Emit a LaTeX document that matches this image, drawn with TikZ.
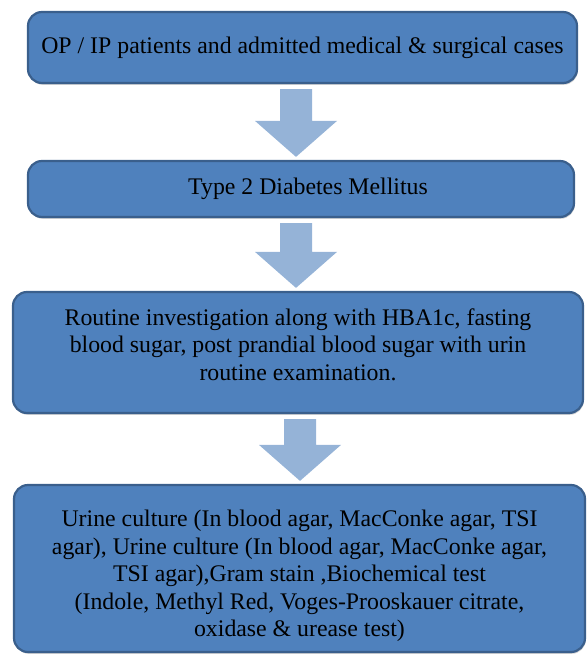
\documentclass[tikz,border=0pt]{standalone}
\usepackage{xcolor}
\usepackage{fontspec}
\setmainfont{Liberation Serif}
\usepackage{tikz}
\usetikzlibrary{calc,shadows}

\definecolor{boxblue}{HTML}{4F81BD}
\definecolor{boxline}{HTML}{3A5F8C}
\definecolor{arrowblue}{HTML}{95B3D7}

\tikzset{
  flowbox/.style={draw=boxline, line width=2.2pt, fill=boxblue,
    rounded corners=14pt, align=center, inner sep=0pt,
    font=\rmfamily\fontsize{23.8}{27.5}\selectfont,
    drop shadow={shadow xshift=0.8pt, shadow yshift=-1.8pt, opacity=0.35, fill=gray}},
}

%% block arrow from node #1 down to node #2, centred at x=#3 %%%%
\newcommand{\flowarrow}[3]{%
\fill[arrowblue] let \p1=(#1.south), \p2=(#2.north) in
  ({#3pt-16pt},{\y1-5pt}) -- ({#3pt+16pt},{\y1-5pt})
  -- ({#3pt+16pt},{\y2+39pt}) -- ({#3pt+41pt},{\y2+39pt})
  -- ({#3pt},{\y2+3pt}) -- ({#3pt-41pt},{\y2+39pt})
  -- ({#3pt-16pt},{\y2+39pt}) -- cycle;
}

\begin{document}
\begin{tikzpicture}[x=1pt,y=-1pt]
\useasboundingbox (0,0) rectangle (587,655);

%% the four steps, top to bottom %%%%%%%%%%%%%%%%%%%%%%%%%
\node[flowbox, minimum width=549pt, minimum height=71pt] (patients) at (302.5,47.5)
  {OP / IP patients and admitted medical \& surgical cases};
\node[flowbox, minimum width=546pt, minimum height=56pt] (diabetes) at (301,189)
  {\hspace*{14pt}Type 2 Diabetes Mellitus};
\node[flowbox, minimum width=570pt, minimum height=121pt, text depth=16pt] (routine) at (298,352.5)
  {Routine investigation along with HBA1c, fasting\\
   blood sugar, post prandial blood sugar with urin\\
   routine examination.};
\node[flowbox, minimum width=571pt, minimum height=167pt, text height=142pt] (culture) at (299.5,568.5)
  {Urine culture (In blood agar, MacConke agar, TSI\\
   agar), Urine culture (In blood agar, MacConke agar,\\
   TSI agar),Gram stain ,Biochemical test\\
   (Indole, Methyl Red, Voges-Prooskauer citrate,\\
   oxidase \& urease test)};

%% arrows between the steps %%%%%%%%%%%%%%%%%%%%%%%%%%%%%%
\foreach \iFrom/\iTo/\iX in {patients/diabetes/296, diabetes/routine/296, routine/culture/300}{
\flowarrow{\iFrom}{\iTo}{\iX}
}
\end{tikzpicture}
\end{document}
